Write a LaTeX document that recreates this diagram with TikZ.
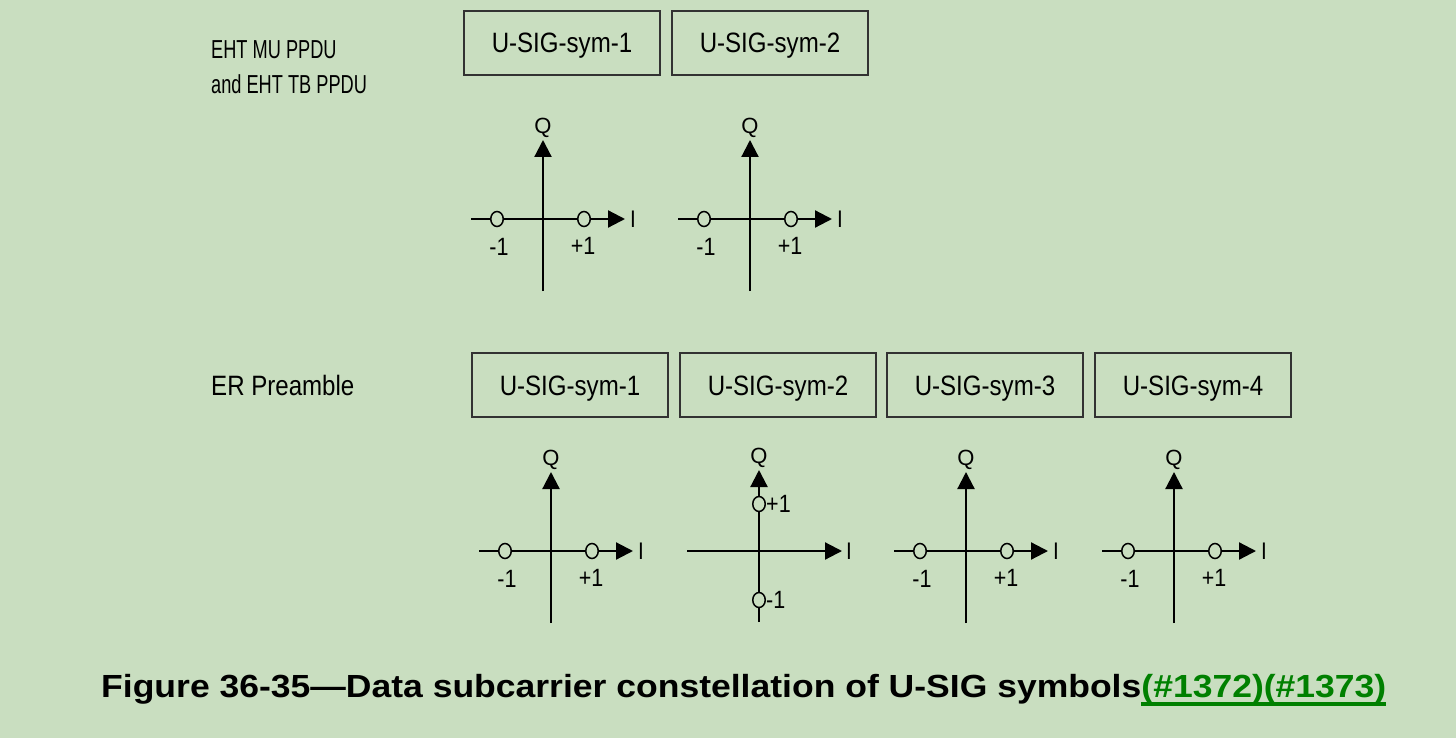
\documentclass[tikz,border=0pt]{standalone}
\usepackage{fontspec}
\setmainfont{Liberation Sans}
\newfontfamily\boxfont[FakeStretch=0.86]{Liberation Sans}
\newfontfamily\lblfont[FakeStretch=0.70]{Liberation Sans}
\newfontfamily\capfont[FakeStretch=1.11]{Liberation Sans}
\usetikzlibrary{arrows.meta,shapes.geometric}
\definecolor{bgc}{RGB}{201,222,192}
\definecolor{linkgreen}{RGB}{0,128,0}
\definecolor{boxline}{RGB}{50,50,50}
\newcommand\thickul[1]{\setbox0\hbox{#1}\rlap{\rule[-9pt]{\wd0}{4.3pt}}\box0}
\tikzset{
  symbox/.style={draw=boxline, line width=1.2pt, minimum width=196pt, minimum height=64pt, inner sep=0pt, text height=20pt, text depth=0pt, font=\boxfont\fontsize{28}{30}\selectfont},
  axisline/.style={line width=2.2pt, black},
  axisarrow/.style={axisline, -{Triangle[length=17pt,width=17pt]}},
  cpoint/.style={ellipse, draw=black, fill=bgc, line width=1.5pt, minimum width=12.5pt, minimum height=15pt, inner sep=0pt},
  qlabel/.style={font=\fontsize{22}{23}\selectfont, inner sep=0pt},
  ilabel/.style={font=\boxfont\fontsize{24}{25}\selectfont, inner sep=0pt},
  numlabel/.style={font=\boxfont\fontsize{25}{26}\selectfont, inner sep=0pt},
  rowlabel/.style={anchor=west, inner sep=0pt, align=left},
}
% #1 name, #2 ox, #3 oy : BPSK on I axis
\newcommand\constelI[3]{%
  \coordinate (#1-l) at (#2-72,#3);
  \coordinate (#1-r) at (#2+82,#3);
  \coordinate (#1-b) at (#2,#3+72);
  \coordinate (#1-t) at (#2,#3-79);
  \draw[axisarrow] (#1-l) -- (#1-r);
  \draw[axisarrow] (#1-b) -- (#1-t);
  \node[cpoint] (#1-m) at (#2-46,#3) {};
  \node[cpoint] (#1-p) at (#2+41,#3) {};
  \node[numlabel] (#1-ml) at (#2-44,#3+28) {-1};
  \node[numlabel] (#1-pl) at (#2+40,#3+27) {+1};
  \node[qlabel] (#1-q) at (#2,#3-91) {Q};
  \node[ilabel] (#1-i) at (#2+90,#3) {I};
}
% BPSK on Q axis
\newcommand\constelQ[3]{%
  \coordinate (#1-l) at (#2-72,#3);
  \coordinate (#1-r) at (#2+83,#3);
  \coordinate (#1-b) at (#2,#3+71);
  \coordinate (#1-t) at (#2,#3-81);
  \draw[axisarrow] (#1-l) -- (#1-r);
  \draw[axisarrow] (#1-b) -- (#1-t);
  \node[cpoint] (#1-p) at (#2,#3-47) {};
  \node[cpoint] (#1-m) at (#2,#3+49) {};
  \node[numlabel, anchor=west] (#1-pl) at (#2+7,#3-47) {+1};
  \node[numlabel, anchor=west] (#1-ml) at (#2+7,#3+49) {-1};
  \node[qlabel] (#1-q) at (#2,#3-93) {Q};
  \node[ilabel] (#1-i) at (#2+90,#3) {I};
}
\begin{document}
\begin{tikzpicture}[x=1pt,y=-1pt]
\fill[bgc] (0,0) rectangle (1456,738);
\useasboundingbox (0,0) rectangle (1456,738);

% top row
\node[rowlabel, font=\lblfont\fontsize{26}{35}\selectfont] (toplabel) at (211,67) {EHT MU PPDU\\and EHT TB PPDU};
\node[symbox] (t1) at (562,43) {U-SIG-sym-1};
\node[symbox] (t2) at (770,43) {U-SIG-sym-2};
\constelI{tc1}{543}{219}
\constelI{tc2}{750}{219}

% bottom row
\node[rowlabel, font=\boxfont\fontsize{28}{30}\selectfont] (erlabel) at (211,385) {ER Preamble};
\node[symbox] (b1) at (570,385) {U-SIG-sym-1};
\node[symbox] (b2) at (778,385) {U-SIG-sym-2};
\node[symbox] (b3) at (985,385) {U-SIG-sym-3};
\node[symbox] (b4) at (1193,385) {U-SIG-sym-4};
\constelI{bc1}{551}{551}
\constelQ{bc2}{759}{551}
\constelI{bc3}{966}{551}
\constelI{bc4}{1174}{551}

% caption
\node[anchor=base west, inner sep=0pt, font=\capfont\bfseries\fontsize{32}{34}\selectfont] (cap) at (101,697)
  {Figure 36-35—Data subcarrier constellation of U-SIG symbols\textcolor{linkgreen}{\thickul{(\#1372)(\#1373)}}};
\end{tikzpicture}
\end{document}
